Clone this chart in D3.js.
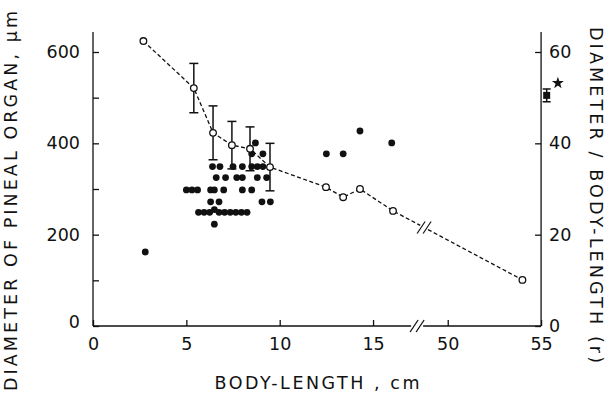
<!DOCTYPE html>
<html><head><meta charset="utf-8">
<script src="https://cdn.jsdelivr.net/npm/d3@7"></script>
<style>body{margin:0;background:#fff}svg{display:block}text{font-family:"DejaVu Sans",sans-serif;fill:#111}</style>
</head><body><svg id="c" width="609" height="395"></svg>
<script>
// ---- data ----
const xTicks = [0, 5, 10, 15, 50, 55];
const yLeftTicks = [0, 100, 200, 300, 400, 500, 600];
const yLeftLabels = [0, 200, 400, 600];
const yRightTicks = [0, 20, 40, 60];
// filled dots: body-length (cm), pineal diameter (µm)
const dotLength = [2.8, 5.0, 5.3, 5.6, 6.3, 6.5, 7.0, 8.0, 8.5,
  5.65, 5.95, 6.25, 6.5, 6.75, 7.05, 7.35, 7.65, 7.95, 8.25,
  6.5, 6.3, 6.75, 9.05, 9.5,
  6.6, 7.1, 7.7, 8.0, 8.8, 9.3,
  6.4, 6.8, 7.5, 8.0, 8.5, 8.8, 9.1,
  8.5, 9.1, 8.7, 12.5, 13.4, 14.3, 16.0];
const dotDiam = [162, 298, 298, 298, 298, 298, 298, 298, 298,
  249, 249, 249, 255, 249, 249, 249, 249, 249, 249,
  223, 272, 272, 272, 272,
  325, 325, 325, 325, 325, 325,
  349, 349, 349, 349, 349, 349, 349,
  377, 377, 401, 377, 377, 427, 401];
// open circles: body-length (cm), ratio r, SD
const rLength = [2.7, 5.4, 6.43, 7.44, 8.41, 9.48, 12.48, 13.4, 14.3, 16.07, 54.0];
const rValue  = [62.4, 52.1, 42.3, 39.6, 38.8, 34.8, 30.4, 28.2, 30.0, 25.2, 10.1];
const rSD     = [0, 5.4, 5.9, 5.2, 4.8, 5.2, 0, 0, 0, 0, 0];
// large animal: mean ± SD (square) and single value (star), in µm
const bigLength = [55.3, 55.9];
const bigDiam = [505, 532];
const bigSD = [14, 0];

// ---- scales ----
const svg = d3.select("#c");
const k = 18.67, x0 = 93;
const x = d3.scaleLinear().domain([0, 17, 48, 55]).range([x0, x0 + 17 * k, x0 + 17 * k, x0 + 24 * k]);
const yL = d3.scaleLinear().domain([0, 600]).range([326, 52]);
const yR = d3.scaleLinear().domain([0, 60]).range([326, 52]);
const yTop = yL(644), xR = x(55), yB = yL(0);

// axis lines
const ax = svg.append("g").attr("stroke", "#111").attr("stroke-width", 1.3).attr("fill", "none");
ax.append("line").attr("x1", x0).attr("x2", x0).attr("y1", yTop).attr("y2", yB);
ax.append("line").attr("x1", xR).attr("x2", xR).attr("y1", yTop).attr("y2", yB);
const brk = x0 + 17.36 * k;
ax.append("line").attr("x1", x0).attr("x2", brk - 6).attr("y1", yB).attr("y2", yB);
ax.append("line").attr("x1", brk + 6).attr("x2", xR).attr("y1", yB).attr("y2", yB);
[-3, 3].forEach(d => ax.append("line").attr("x1", brk + d - 4).attr("y1", yB + 6).attr("x2", brk + d + 4).attr("y2", yB - 6));

// axes (ticks inward)
const gx = svg.append("g").attr("transform", `translate(0,${yB})`)
  .call(d3.axisBottom(x).tickValues(xTicks).tickSize(-6).tickPadding(12).tickFormat(d3.format("d")));
const gl = svg.append("g").attr("transform", `translate(${x0},0)`)
  .call(d3.axisLeft(yL).tickValues(yLeftTicks).tickSize(-6).tickPadding(13)
    .tickFormat(d => yLeftLabels.includes(d) ? d : ""));
const gr = svg.append("g").attr("transform", `translate(${xR},0)`)
  .call(d3.axisRight(yR).tickValues(yRightTicks).tickSize(-6).tickPadding(8));
[gx, gl, gr].forEach(g => {
  g.select(".domain").remove();
  g.selectAll(".tick line").attr("stroke", "#111").attr("stroke-width", 1.3);
  g.selectAll("text").attr("font-size", 17.5).attr("font-family", "DejaVu Sans").attr("fill", "#111");
});
gl.selectAll(".tick").filter(d => d === 0).select("text").attr("dy", "0.1em");

// titles
svg.append("text").attr("transform", `translate(317,${yB + 63}) `).attr("text-anchor", "middle")
  .attr("font-size", 17.5).attr("textLength", 205).attr("lengthAdjust", "spacing").text("BODY-LENGTH , cm");
svg.append("text").attr("transform", "translate(17,201) rotate(-90)").attr("text-anchor", "middle")
  .attr("font-size", 17.5).attr("textLength", 380).attr("lengthAdjust", "spacing").text("DIAMETER OF PINEAL ORGAN, µm");
svg.append("text").attr("transform", "translate(590,195) rotate(90)").attr("text-anchor", "middle")
  .attr("font-size", 17.5).attr("textLength", 336).attr("lengthAdjust", "spacing").text("DIAMETER / BODY-LENGTH (r)");

// dashed ratio line with break
const pts = rLength.map((d, i) => [x(d), yR(rValue[i])]);
const lineG = svg.append("g").attr("stroke", "#111").attr("stroke-width", 1.3).attr("fill", "none").attr("stroke-dasharray", "4,2.5");
const line = d3.line();
const n = pts.length;
const a = pts[n - 2], b = pts[n - 1];
const at = t => [a[0] + (b[0] - a[0]) * t, a[1] + (b[1] - a[1]) * t];
const tb = (brk + 7 - a[0]) / (b[0] - a[0]);
lineG.append("path").attr("d", line(pts.slice(0, n - 1).concat([at(tb - 0.03)])));
lineG.append("path").attr("d", line([at(tb + 0.03), b]));
const c = at(tb);
[-3, 3].forEach(d => svg.append("line").attr("stroke", "#111").attr("stroke-width", 1.2)
  .attr("x1", c[0] + d - 4).attr("y1", c[1] + 6).attr("x2", c[0] + d + 4).attr("y2", c[1] - 6));

// error bars
const eb = svg.append("g").attr("stroke", "#111").attr("stroke-width", 1.5);
rLength.forEach((d, i) => {
  if (!rSD[i]) return;
  const cx = x(d), t = yR(rValue[i] + rSD[i]), bt = yR(rValue[i] - rSD[i]);
  eb.append("line").attr("x1", cx).attr("x2", cx).attr("y1", t).attr("y2", bt);
  eb.append("line").attr("x1", cx - 4.5).attr("x2", cx + 4.5).attr("y1", t).attr("y2", t);
  eb.append("line").attr("x1", cx - 4.5).attr("x2", cx + 4.5).attr("y1", bt).attr("y2", bt);
});

// filled dots
svg.append("g").selectAll("circle").data(dotLength).join("circle")
  .attr("cx", d => x(d)).attr("cy", (d, i) => yL(dotDiam[i])).attr("r", 3.4).attr("fill", "#111");

// open circles
svg.append("g").selectAll("circle").data(pts).join("circle")
  .attr("cx", d => d[0]).attr("cy", d => d[1]).attr("r", 3.3)
  .attr("fill", "#fff").attr("stroke", "#111").attr("stroke-width", 1.3);

// large animal markers
const sq = [x(bigLength[0]), yL(bigDiam[0])];
eb.append("line").attr("x1", sq[0]).attr("x2", sq[0]).attr("y1", yL(bigDiam[0] + bigSD[0])).attr("y2", yL(bigDiam[0] - bigSD[0]));
[bigDiam[0] + bigSD[0], bigDiam[0] - bigSD[0]].forEach(v =>
  eb.append("line").attr("x1", sq[0] - 4).attr("x2", sq[0] + 4).attr("y1", yL(v)).attr("y2", yL(v)));
svg.append("rect").attr("x", sq[0] - 3.5).attr("y", sq[1] - 3.5).attr("width", 7).attr("height", 7).attr("fill", "#111");
svg.append("path").attr("d", d3.symbol(d3.symbolStar, 45)())
  .attr("transform", `translate(${x(bigLength[1])},${yL(bigDiam[1])})`).attr("fill", "#111");
</script></body></html>
